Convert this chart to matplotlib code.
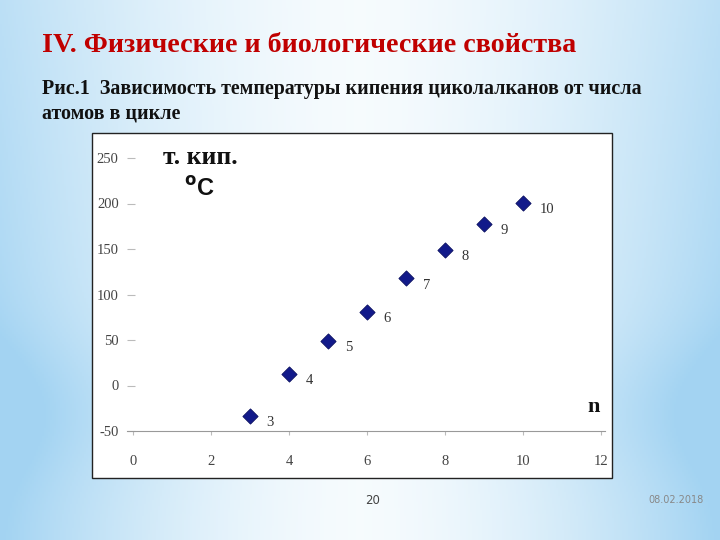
import numpy as np
import matplotlib
matplotlib.use("Agg")
import matplotlib.pyplot as plt
from matplotlib.patches import Rectangle

# ---- data ----
n_atoms = [3, 4, 5, 6, 7, 8, 9, 10]
boil_temp = [-33, 13, 49, 81, 118, 149, 178, 201]
point_labels = ["3", "4", "5", "6", "7", "8", "9", "10"]
x_ticks = [0, 2, 4, 6, 8, 10, 12]
y_ticks = [-50, 0, 50, 100, 150, 200, 250]

title = "IV. Физические и биологические свойства"
subtitle1 = "Рис.1  Зависимость температуры кипения циколалканов от числа"
subtitle2 = "атомов в цикле"

W, H = 720, 540
fig = plt.figure(figsize=(7.2, 5.4), dpi=100)

# ---- background gradient ----
bg = fig.add_axes([0, 0, 1, 1])
xx, yy = np.meshgrid(np.linspace(0, 1, 360), np.linspace(0, 1, 270))
edge = np.clip(np.abs(xx - 0.5) * 2, 0, 1) ** 1.6
band = np.exp(-((yy - 0.76) / 0.14) ** 2) * 0.3
t = np.clip(edge * (0.7 + 0.3 * yy) + band * edge, 0, 1)
c0 = np.array([0.965, 0.985, 0.995])
c1 = np.array([0.64, 0.83, 0.95])
img = c0[None, None, :] * (1 - t[..., None]) + c1[None, None, :] * t[..., None]
bg.imshow(img, extent=[0, 1, 0, 1], aspect="auto", origin="upper")
bg.set_xlim(0, 1)
bg.set_ylim(0, 1)
bg.axis("off")

# chart frame
bg.add_patch(Rectangle((92 / W, 1 - 478 / H), (612 - 92) / W, (478 - 133) / H,
                       facecolor="white", edgecolor="#222222", linewidth=1.0, zorder=2))

# titles
fig.text(42 / W, 1 - 45 / H, title, color="#c00000", fontsize=20.2, fontweight="bold",
         family="Liberation Serif", va="center", ha="left")
fig.text(42 / W, 1 - 89 / H, subtitle1, color="#111111", fontsize=14.45, fontweight="bold",
         family="Liberation Serif", va="center", ha="left")
fig.text(42 / W, 1 - 113 / H, subtitle2, color="#111111", fontsize=14.45, fontweight="bold",
         family="Liberation Serif", va="center", ha="left")

# footer
fig.text(373 / W, 1 - 500 / H, "20", color="#444444", fontsize=8.5, family="DejaVu Sans",
         va="center", ha="center")
fig.text(676 / W, 1 - 500 / H, "08.02.2018", color="#888888", fontsize=7,
         family="DejaVu Sans", va="center", ha="center")

# ---- chart axes ----
left_px, right_px = 127, 605
top_px, bot_px = 158, 431
ax = fig.add_axes([left_px / W, 1 - bot_px / H, (right_px - left_px) / W, (bot_px - top_px) / H])
ax.set_facecolor("none")
ax.set_xlim(-0.15, 12.1)
ax.set_ylim(-50, 250)
for s in ["top", "right", "left"]:
    ax.spines[s].set_visible(False)
ax.spines["bottom"].set_color("#999999")
ax.spines["bottom"].set_linewidth(0.8)

ax.scatter(n_atoms, boil_temp, marker="D", s=60, color="#121a8a", edgecolor="#0a0f60",
           linewidth=0.6, zorder=5)
for x, y, lab in zip(n_atoms, boil_temp, point_labels):
    ax.annotate(lab, (x, y), xytext=(12, -5), textcoords="offset points",
                fontsize=10.5, family="Liberation Serif", color="#333333", va="center")

ax.set_xticks(x_ticks)
ax.set_xticklabels([str(v) for v in x_ticks], family="Liberation Serif", fontsize=10.5,
                   color="#444444")
ax.set_yticks(y_ticks)
ax.set_yticklabels([str(v) for v in y_ticks], family="Liberation Serif", fontsize=10.5,
                   color="#444444")
ax.tick_params(axis="x", direction="out", length=3, color="#bbbbbb", pad=14)
ax.tick_params(axis="y", direction="in", length=6, color="#bbbbbb", pad=6, left=True)

# axis captions in figure pixel coords
fig.text(163 / W, 1 - 158 / H, "т. кип.", fontsize=18.5, fontweight="bold",
         family="Liberation Serif", color="#111111", va="center", ha="left")
fig.text(184 / W, 1 - 189 / H, r"$^{\mathbf{o}}$C", fontsize=17, fontweight="bold",
         family="Liberation Sans", color="#111111", va="center", ha="left")
fig.text(587 / W, 1 - 407 / H, "n", fontsize=16, fontweight="bold",
         family="Liberation Serif", color="#111111", va="center", ha="left")

fig.savefig("out.png", dpi=100)
